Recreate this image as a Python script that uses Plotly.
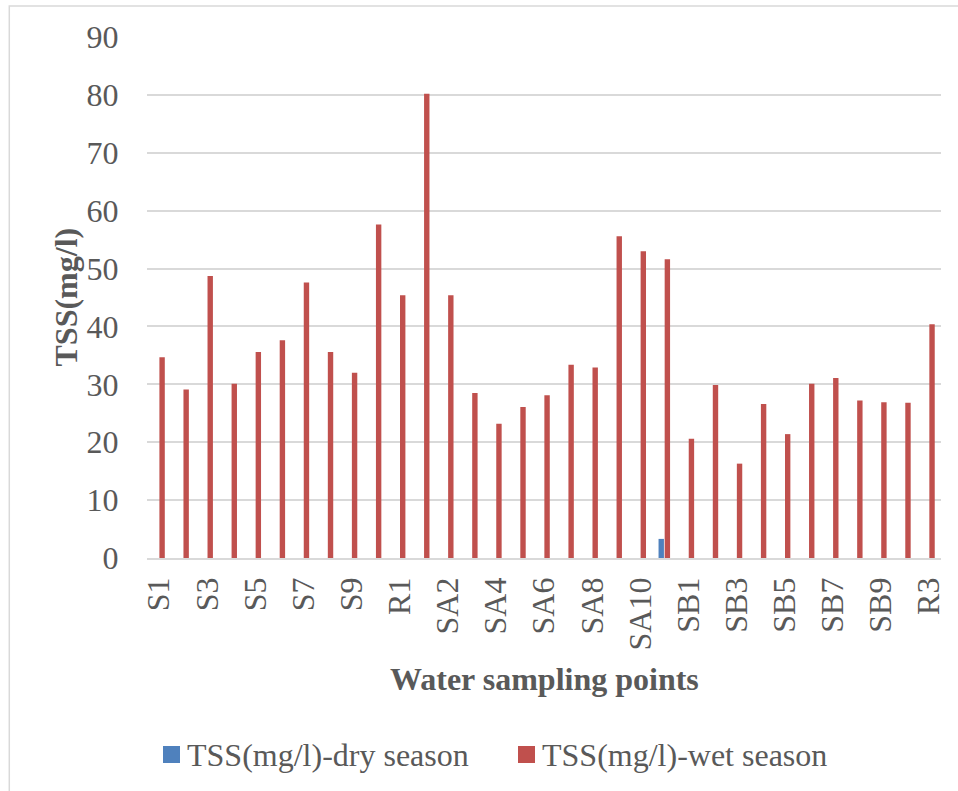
import plotly.graph_objects as go

categories = (["S%d" % i for i in range(1, 11)] + ["R1"] +
              ["SA%d" % i for i in range(1, 11)] + ["R2"] +
              ["SB%d" % i for i in range(1, 11)] + ["R3"])

dry_season = [0, 0, 0, 0, 0, 0, 0, 0, 0, 0,
              0,
              0, 0, 0, 0, 0, 0, 0, 0, 0, 0,
              3.3,
              0, 0, 0, 0, 0, 0, 0, 0, 0, 0,
              0]

wet_season = [34.7, 29.1, 48.7, 30.1, 35.6, 37.6, 47.6, 35.6, 32.0, 57.6,
              45.4,
              80.2, 45.4, 28.5, 23.2, 26.1, 28.1, 33.4, 32.9, 55.6, 53.0,
              51.6,
              20.6, 29.9, 16.3, 26.6, 21.4, 30.1, 31.1, 27.2, 26.9, 26.8,
              40.4]

series_names = ["TSS(mg/l)-dry season", "TSS(mg/l)-wet season"]
series_colors = ["#4F81BD", "#C0504D"]

tick_labels = categories[::2]

FONT = "Liberation Serif"
FS = 32
TXT = "#595959"

# pixel helpers for plot-area-relative (paper) coordinates
L, R, T, B = 147, 17, 37, 233
W, H = 958, 791
PW, PH = W - L - R, H - T - B


def px(x):
    return (x - L) / PW


def py(y):
    return (H - B - y) / PH


fig = go.Figure()
for name, vals, col in zip(series_names, [dry_season, wet_season], series_colors):
    fig.add_trace(go.Bar(x=categories, y=vals, name=name, showlegend=False,
                         marker=dict(color=col, line=dict(width=0))))

legend_shapes = []
legend_ann = []
for (x0, name, col) in [(163, series_names[0], series_colors[0]), (518, series_names[1], series_colors[1])]:
    legend_shapes.append(dict(type="rect", xref="paper", yref="paper",
                              x0=px(x0), x1=px(x0 + 17), y0=py(763), y1=py(746),
                              line=dict(width=0), fillcolor=col))
    legend_ann.append(dict(text=name, xref="paper", yref="paper", x=px(x0 + 22), y=py(755),
                           xanchor="left", yanchor="middle", showarrow=False,
                           font=dict(family=FONT, size=FS, color=TXT)))

fig.update_layout(
    width=W, height=H,
    margin=dict(l=L, r=R, t=T, b=B),
    paper_bgcolor="white", plot_bgcolor="white",
    barmode="group", bargap=0.49, bargroupgap=0.12,
    font=dict(family=FONT, size=FS, color=TXT),
    xaxis=dict(type="category", tickmode="array", tickvals=tick_labels, ticktext=tick_labels,
               tickangle=-90, showgrid=False, showline=True, linecolor="#d9d9d9", linewidth=1.5,
               ticks="outside", ticklen=5, tickcolor="rgba(0,0,0,0)",
               tickfont=dict(family=FONT, size=FS, color=TXT), automargin=False),
    yaxis=dict(range=[0, 90], dtick=10, tick0=0, showgrid=True, gridcolor="#d9d9d9", gridwidth=1.5,
               zeroline=False, showline=False, ticks="outside", ticklen=21, tickcolor="rgba(0,0,0,0)",
               tickfont=dict(family=FONT, size=FS, color=TXT), automargin=False),
    annotations=[
        dict(text="<b>TSS(mg/l)</b>", xref="paper", yref="paper", x=px(65), y=0.5,
             xanchor="center", yanchor="middle", textangle=-90, showarrow=False,
             font=dict(family=FONT, size=FS, color=TXT)),
        dict(text="<b>Water sampling points</b>", xref="paper", yref="paper", x=0.5,
             y=py(679), xanchor="center", yanchor="middle", showarrow=False,
             font=dict(family=FONT, size=FS, color=TXT)),
    ] + legend_ann,
    shapes=[
        dict(type="rect", xref="paper", yref="paper",
             x0=px(9.3), x1=px(965), y0=py(800), y1=py(6),
             line=dict(color="#d9d9d9", width=1.5), fillcolor="rgba(0,0,0,0)", layer="below"),
    ] + legend_shapes,
)

fig.write_html("out.html")
